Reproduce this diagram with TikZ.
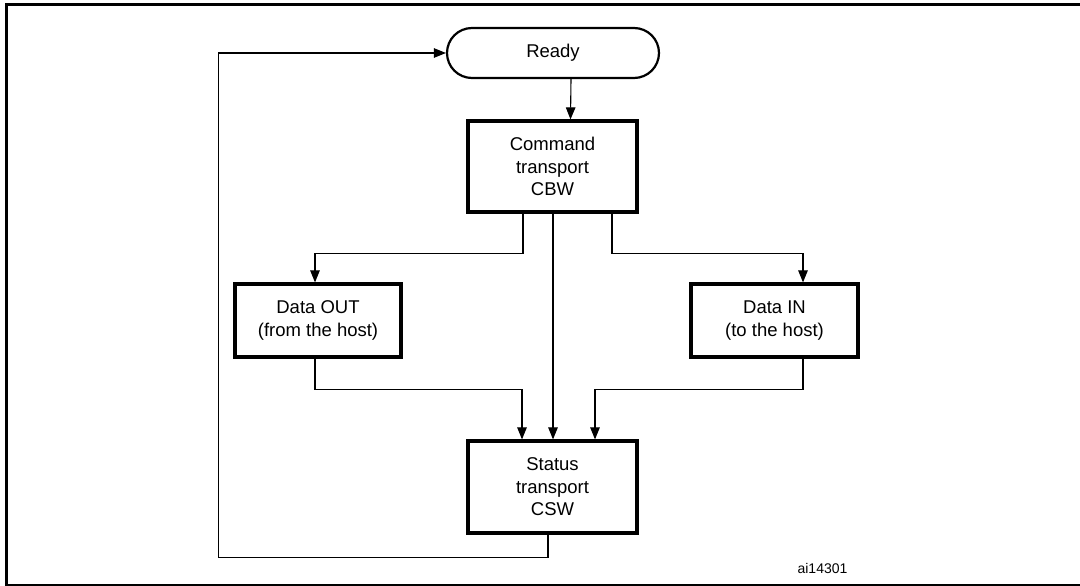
\documentclass[tikz,border=0pt]{standalone}
\usepackage{fontspec}
\setmainfont{Liberation Sans}
\usetikzlibrary{arrows.meta,shapes.misc,calc}
\begin{document}
\begin{tikzpicture}[x=1pt,y=-1pt,
  box/.style={draw,line width=3.2pt,minimum width=#1,align=center,inner sep=0pt,
    font=\fontsize{18.5}{22.5}\selectfont},
  conn/.style={line width=1.1pt},
  arr/.style={conn,-{Triangle[length=12pt,width=9.5pt]}},
  frameline/.style={line width=3pt}]
\useasboundingbox (0,0) rectangle (1080,586);
\draw[frameline] (1080,5) -- (6,5) -- (6,585) -- (1080,585);

\node[draw,rounded rectangle,line width=2.2pt,minimum width=212pt,minimum height=50pt,inner sep=0pt,
  font=\fontsize{18.5}{22.5}\selectfont] (ready) at (553,53) {Ready};
\node[box=169pt,minimum height=91pt] (cmd) at (552.5,166.5) {Command\\transport\\CBW};
\node[box=166pt,minimum height=73pt] (dout) at (318,320.5) {Data OUT\\(from the host)};
\node[box=167pt,minimum height=73pt] (din) at (774.5,320.5) {Data IN\\(to the host)};
\node[box=169pt,minimum height=92pt] (stat) at (552.5,487) {Status\\transport\\CSW};
\node[font=\fontsize{14}{16}\selectfont,inner sep=0pt] (id) at (822.5,568) {ai14301};

\draw[arr] ($(ready.south)+(18,0)$) -- ($(cmd.north)+(18,0)$);
\draw[arr] ($(cmd.south)+(-29.5,0)$) -- ++(0,40) -| ($(dout.north)+(-3,0)$);
\draw[arr] ($(cmd.south)+(0.5,0)$) -- ($(stat.north)+(0.5,0)$);
\draw[arr] ($(cmd.south)+(59.5,0)$) -- ++(0,40) -| ($(din.north)+(28.5,0)$);
\draw[arr] ($(dout.south)+(-3,0)$) -- ++(0,31) -| ($(stat.north)+(-30.5,0)$);
\draw[arr] ($(din.south)+(28.5,0)$) -- ++(0,31) -| ($(stat.north)+(42.5,0)$);
\draw[arr] ($(stat.south)+(-4.5,0)$) -- ++(0,23) -| ($(ready.west)+(-227,0)$) -- (ready.west);
\end{tikzpicture}
\end{document}
